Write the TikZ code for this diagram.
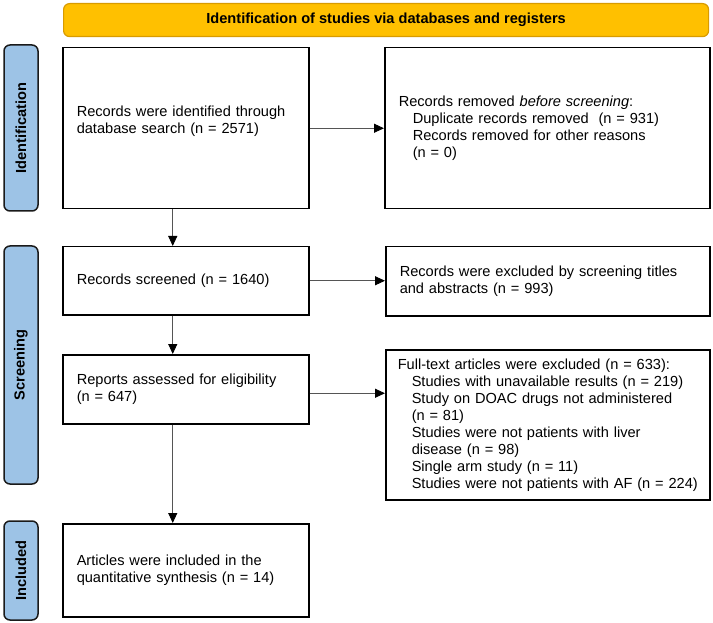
\documentclass[tikz,border=0pt]{standalone}
\usepackage{fontspec}
\setmainfont{Liberation Sans}
\usetikzlibrary{positioning,arrows.meta}
\definecolor{bannerclr}{HTML}{FFC000}
\definecolor{bannerbd}{HTML}{D89B00}
\definecolor{stageclr}{HTML}{9DC3E6}
\definecolor{stagebd}{HTML}{1A1A1A}
\definecolor{arrowclr}{HTML}{555555}
\newcommand{\subind}[1]{\mbox{\hspace*{14pt}#1}}
\tikzset{
  stagebar/.style={fill=stageclr, draw=stagebd, line width=1.5pt, rounded corners=6pt,
        rotate=90, inner sep=0pt, font=\fontsize{14.6}{17}\selectfont\bfseries},
  flowbox/.style={draw=black, line width=1.5pt, anchor=north west, inner xsep=14pt,
        inner ysep=0pt, align=left, font=\fontsize{14.6}{17}\selectfont},
  flowarrow/.style={draw=arrowclr, line width=0.9pt,
        -{Triangle[length=10pt,width=9pt,color=black]}}
}

\begin{document}
\begin{tikzpicture}[x=1pt, y=1pt]
  \useasboundingbox (0,0) rectangle (713,-623);
  % banner
  \node[fill=bannerclr, draw=bannerbd, line width=1.2pt, rounded corners=6pt, inner sep=0pt,
        minimum width=645pt, minimum height=33pt, anchor=north west,
        font=\fontsize{14.6}{17}\selectfont\bfseries] (banner) at (63,-3)
    {Identification of studies via databases and registers};
  % stage bars
  \node[stagebar, minimum width=166pt, minimum height=34pt] (idbar) at (21,-128) {Identification};
  \node[stagebar, minimum width=238pt, minimum height=34pt] (scrbar) at (21,-365) {Screening};
  \node[stagebar, minimum width=99pt, minimum height=34pt] (incbar) at (21,-570.5) {Included};
  % left column
  \node[flowbox, text width=218pt, minimum height=161pt] (recid) at (62,-47)
    {Records were identified through\\database search (n = 2571)\\\mbox{}};
  \node[flowbox, text width=218pt, minimum height=68pt] (recscr) at (62,-246)
    {Records screened (n = 1640)};
  \node[flowbox, text width=218pt, minimum height=69pt] (recasm) at (62,-354)
    {Reports assessed for eligibility\\(n = 647)};
  \node[flowbox, text width=218pt, minimum height=93pt] (recinc) at (62,-523)
    {Articles were included in the\\quantitative synthesis (n = 14)};
  % right column
  \node[flowbox, text width=297pt, minimum height=161pt] (recrem) at (384,-47)
    {Records removed \textit{before screening}:\\
     \subind{Duplicate records removed\ \ (n = 931)}\\
     \subind{Records removed for other reasons}\\
     \subind{(n = 0)}};
  \node[flowbox, text width=296pt, minimum height=69pt] (recexc) at (385,-246)
    {Records were excluded by screening titles\\and abstracts (n = 993)};
  \node[flowbox, inner xsep=12pt, text width=300pt, minimum height=150pt] (fulexc) at (385,-349)
    {Full-text articles were excluded (n = 633):\\
     \subind{Studies with unavailable results (n = 219)}\\
     \subind{Study on DOAC drugs not administered}\\
     \subind{(n = 81)}\\
     \subind{Studies were not patients with liver}\\
     \subind{disease (n = 98)}\\
     \subind{Single arm study (n = 11)}\\
     \subind{Studies were not patients with AF (n = 224)}};
  % arrows
  \draw[flowarrow] ([xshift=-13pt]recid.south) -- ([xshift=-13pt]recscr.north);
  \draw[flowarrow] ([xshift=-13pt]recscr.south) -- ([xshift=-13pt]recasm.north);
  \draw[flowarrow] ([xshift=-13pt]recasm.south) -- ([xshift=-13pt]recinc.north);
  \draw[flowarrow] (recid.east) -- (recid.east -| recrem.west);
  \draw[flowarrow] (recscr.east) -- (recscr.east -| recexc.west);
  \draw[flowarrow] ([yshift=-4pt]recasm.east) -- ([yshift=-4pt]recasm.east -| fulexc.west);
\end{tikzpicture}
\end{document}
